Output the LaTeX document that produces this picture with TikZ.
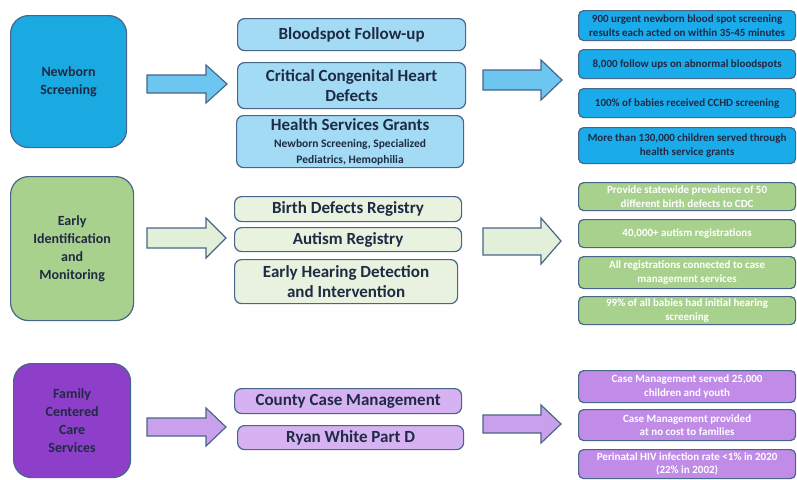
\documentclass[tikz,border=0pt]{standalone}
\usepackage{fontspec}
\setmainfont{Carlito}
\definecolor{edge}{HTML}{48658A}
\definecolor{ink}{HTML}{1F2A44}
\definecolor{nbL}{HTML}{1BA9E2}
\definecolor{nbM}{HTML}{A3DBF4}
\definecolor{nbR}{HTML}{1AABEA}
\definecolor{nbA}{HTML}{6DC6F0}
\definecolor{eiL}{HTML}{A9D18E}
\definecolor{eiM}{HTML}{E8F2DE}
\definecolor{eiR}{HTML}{A9D18E}
\definecolor{eiA}{HTML}{E2F0D9}
\definecolor{fcL}{HTML}{8E3FC9}
\definecolor{fcM}{HTML}{D6B2F2}
\definecolor{fcR}{HTML}{C08CE8}
\definecolor{fcA}{HTML}{C9A0EC}
\tikzset{
  base/.style={draw=edge, line width=1.2pt, anchor=north west, inner sep=0pt, align=center, font=\bfseries, text=ink},
  leftbox/.style={base, rounded corners=18pt, font=\bfseries\fontsize{14}{18}\selectfont},
  midbox/.style={base, rounded corners=7pt, font=\bfseries\fontsize{17}{20}\selectfont},
  rightbox/.style={base, rounded corners=5pt, minimum width=217pt, font=\bfseries\fontsize{11}{13.5}\selectfont},
  bigarrow/.style={draw=edge, line width=1.2pt, line join=miter},
}
\begin{document}
\begin{tikzpicture}[x=1pt,y=1pt]
\useasboundingbox (0,0) rectangle (797,-479);
% left boxes
\node[leftbox, fill=nbL, minimum width=116pt, minimum height=132pt] (nb) at (10,-15) {Newborn\\Screening};
\node[leftbox, fill=eiL, minimum width=123pt, minimum height=144pt] (ei) at (10,-176) {Early\\Identification\\and\\Monitoring};
\node[leftbox, fill=fcL, minimum width=117pt, minimum height=114pt] (fc) at (13,-363) {Family\\Centered\\Care\\Services};
% left arrows
\draw[bigarrow, fill=nbA] (147,-75) -- (206,-75) -- (206,-65) -- (227,-84) -- (206,-103) -- (206,-93) -- (147,-93) -- cycle;
\draw[bigarrow, fill=eiA] (147,-228) -- (206,-228) -- (206,-218) -- (226,-238) -- (206,-258) -- (206,-248) -- (147,-248) -- cycle;
\draw[bigarrow, fill=fcA] (147,-418) -- (206,-418) -- (206,-408) -- (226,-427) -- (206,-446) -- (206,-436) -- (147,-436) -- cycle;
% middle boxes
\node[midbox, fill=nbM, minimum width=228pt, minimum height=32pt] (m1) at (237,-18) {Bloodspot Follow-up};
\node[midbox, fill=nbM, minimum width=228pt, minimum height=46pt] (m2) at (237,-62) {Critical Congenital Heart\\Defects};
\node[midbox, fill=nbM, minimum width=227pt, minimum height=52pt] (m3) at (236,-115) {Health Services Grants\\[-3pt]{\fontsize{11.5}{13}\selectfont Newborn Screening, Specialized}\\[-4pt]{\fontsize{11.5}{13}\selectfont Pediatrics, Hemophilia}};
\node[midbox, fill=eiM, minimum width=227pt, minimum height=25pt] (g1) at (234,-196) {Birth Defects Registry};
\node[midbox, fill=eiM, minimum width=227pt, minimum height=24pt] (g2) at (234,-227) {Autism Registry};
\node[midbox, fill=eiM, minimum width=223pt, minimum height=44pt] (g3) at (234,-259) {Early Hearing Detection\\and Intervention};
\node[midbox, fill=fcM, minimum width=227pt, minimum height=25pt] (p1) at (234,-388) {County Case Management};
\node[midbox, fill=fcM, minimum width=226pt, minimum height=24pt] (p2) at (237,-425) {Ryan White Part D};
% right arrows
\draw[bigarrow, fill=nbA] (483,-70) -- (541,-70) -- (541,-60) -- (562,-80) -- (541,-100) -- (541,-90) -- (483,-90) -- cycle;
\draw[bigarrow, fill=eiA] (483,-228) -- (541,-228) -- (541,-218) -- (561,-241) -- (541,-264) -- (541,-255) -- (483,-255) -- cycle;
\draw[bigarrow, fill=fcA] (483,-415) -- (541,-415) -- (541,-405) -- (561,-424) -- (541,-443) -- (541,-433) -- (483,-433) -- cycle;
% right boxes
\node[rightbox, fill=nbR, minimum height=30pt] (r1) at (578,-10) {900 urgent newborn blood spot screening\\results each acted on within 35-45 minutes};
\node[rightbox, fill=nbR, minimum height=29pt] (r2) at (578,-49) {8,000 follow ups on abnormal bloodspots};
\node[rightbox, fill=nbR, minimum height=29pt] (r3) at (578,-88) {100\% of babies received CCHD screening};
\node[rightbox, fill=nbR, minimum height=36pt] (r4) at (578,-127) {More than 130,000 children served through\\health service grants};
\node[rightbox, fill=eiR, text=white, minimum height=28pt] (s1) at (578,-182) {Provide statewide prevalence of 50\\different birth defects to CDC};
\node[rightbox, fill=eiR, text=white, minimum height=28pt] (s2) at (578,-219) {40,000+ autism registrations};
\node[rightbox, fill=eiR, text=white, minimum height=32pt] (s3) at (578,-256) {All registrations connected to case\\management services};
\node[rightbox, fill=eiR, text=white, minimum height=28pt] (s4) at (578,-296) {99\% of all babies had initial hearing\\screening};
\node[rightbox, fill=fcR, text=white, minimum height=32pt] (t1) at (578,-370) {Case Management served 25,000\\children and youth};
\node[rightbox, fill=fcR, text=white, minimum height=31pt] (t2) at (578,-409) {Case Management provided\\at no cost to families};
\node[rightbox, fill=fcR, text=white, minimum height=29pt] (t3) at (578,-449) {Perinatal HIV infection rate <1\% in 2020\\(22\% in 2002)};
\end{tikzpicture}
\end{document}
